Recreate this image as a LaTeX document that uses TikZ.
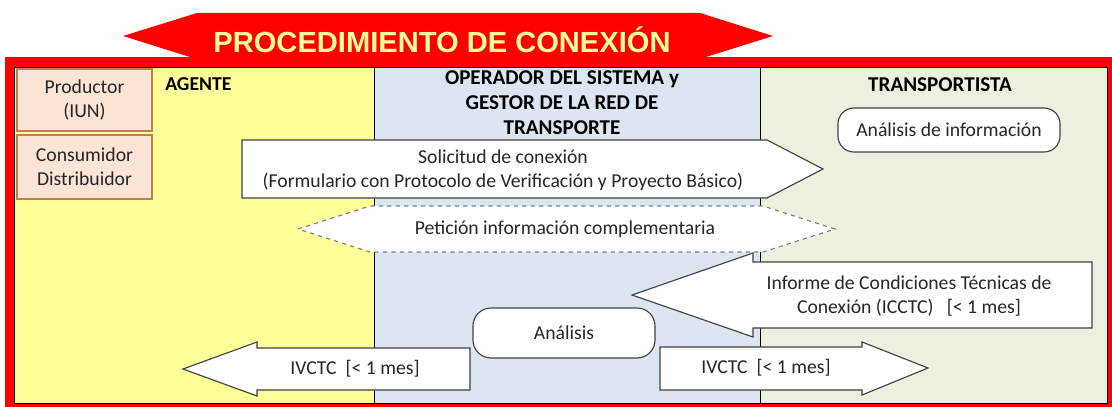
\documentclass[tikz,border=0pt]{standalone}
\usepackage{fontspec}
\setmainfont{Carlito}
\newfontfamily\titlefont{Liberation Sans}

\definecolor{amarillo}{HTML}{FFFF99}
\definecolor{azul}{HTML}{DCE6F2}
\definecolor{verde}{HTML}{EBF1DE}
\definecolor{rosado}{HTML}{FCE4D6}
\definecolor{marron}{HTML}{C0804D}
\definecolor{rojo}{HTML}{FF0000}
\definecolor{borde}{HTML}{404040}
\definecolor{letra}{HTML}{262626}

\tikzset{
  txt/.style={font=\fontsize{14}{17}\selectfont, text=letra, align=center, inner sep=0pt},
  cabecera/.style={font=\bfseries\fontsize{15}{17.7}\selectfont, align=center, inner sep=0pt},
  caja/.style={txt, draw=marron, fill=rosado, line width=0.8pt},
  redondo/.style={txt, draw=borde, fill=white, line width=0.8pt},
  flecha/.style={draw=borde, fill=white, line width=0.8pt},
  discontinua/.style={draw=gray, fill=white, line width=0.8pt, dashed},
}

\begin{document}
\begin{tikzpicture}[x=0.025cm, y=-0.025cm]
    \useasboundingbox (0,0) rectangle (1112,407);

    % 标题
    \fill[rojo] (5,57) rectangle (1112,407);
    \fill[rojo] (123,36) -- (197,13) -- (700,13) -- (773,36) -- (706,57) -- (190,57) -- cycle;
    \node[anchor=base, inner sep=0pt, text=amarillo, font=\titlefont\bfseries\fontsize{20.7}{24}\selectfont] (titulo) at (442,53) {PROCEDIMIENTO DE CONEXIÓN};

    % 泳道
    \filldraw[fill=amarillo, draw=black, thin] (14,67) rectangle (374,403);
    \filldraw[fill=azul, draw=black, thin] (374,67) rectangle (760,403);
    \filldraw[fill=verde, draw=black, thin] (760,67) rectangle (1107,403);

    % 设置节点
    \node[caja, minimum width=3.375cm, minimum height=1.55cm] (productor) at (84.5,100) {Productor\\(IUN)};
    \node[caja, minimum width=3.375cm, minimum height=1.6cm] (consumidor) at (84.5,167) {Consumidor\\Distribuidor};
    \node[cabecera, anchor=west, font=\bfseries\fontsize{14}{17}\selectfont] (agente) at (165,84) {AGENTE};
    \node[cabecera] (operador) at (562,103) {OPERADOR DEL SISTEMA y\\GESTOR DE LA RED DE\\TRANSPORTE};
    \node[cabecera] (transportista) at (940,85) {TRANSPORTISTA};
    \node[redondo, minimum width=5.55cm, minimum height=1.1cm, rounded corners=0.4cm] (infoanalisis) at (949,130) {Análisis de información};
    \node[redondo, minimum width=4.55cm, minimum height=1.25cm, rounded corners=0.45cm] (analisis) at (564,333) {Análisis};

    % 块状箭头
    \draw[flecha] (242,140) -- (767,140) -- (823,169) -- (767,198) -- (242,198) -- cycle;
    \draw[discontinua] (298,229) -- (370,206) -- (763,206) -- (835,229) -- (763,252) -- (370,252) -- cycle;
    \draw[flecha] (632,295) -- (753,253) -- (753,262) -- (1092,262) -- (1092,328) -- (753,328) -- (753,337) -- cycle;
    \draw[flecha] (183,369) -- (257,342) -- (257,348) -- (470,348) -- (470,390) -- (257,390) -- (257,396) -- cycle;
    \draw[flecha] (660,347) -- (862,347) -- (862,342) -- (928,368) -- (862,395) -- (862,390) -- (660,390) -- cycle;

    % 箭头文字
    \node[txt] (solicitud) at (503,170) {Solicitud de conexión\\(Formulario con Protocolo de Verificación y Proyecto Básico)};
    \node[txt] (peticion) at (565,229) {Petición información complementaria};
    \node[txt] (icctc) at (909,296) {Informe de Condiciones Técnicas de\\Conexión (ICCTC)\ \ \ [< 1 mes]};
    \node[txt] (ivctcagente) at (355,369) {IVCTC\ \ [< 1 mes]};
    \node[txt] (ivctctransp) at (766,368) {IVCTC\ \ [< 1 mes]};
\end{tikzpicture}
\end{document}
